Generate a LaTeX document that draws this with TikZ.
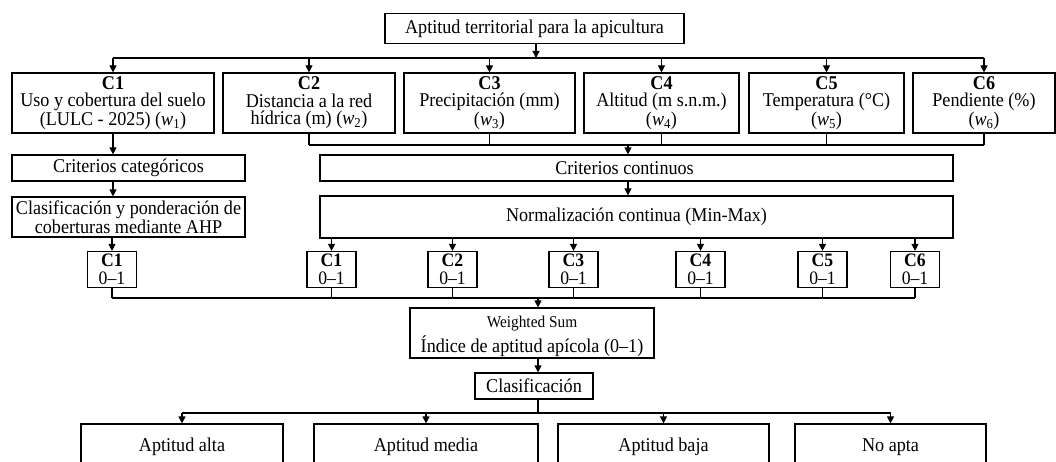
\documentclass[tikz,border=0pt]{standalone}
\usepackage{fontspec}
\setmainfont[FakeStretch=0.93]{Liberation Serif}
\usetikzlibrary{arrows.meta,positioning}
\tikzset{
    box/.style={draw,line width=1.2pt,inner sep=0pt,align=center},
    sz/.style 2 args={minimum width=#1pt,minimum height=#2pt},
    link/.style={line width=1.2pt},
    arr/.style={line width=1.2pt,-{Triangle[length=7pt,width=7pt]}},
    tiny box/.style={box,sz={49}{36},font=\fontsize{19}{17.5}\selectfont}
}
\newcommand{\wt}[1]{\textit{w}\textsubscript{#1}}

\begin{document}
\begin{tikzpicture}[x=1pt,y=-1pt,font=\fontsize{19.5}{17.5}\selectfont]
\useasboundingbox (0,0) rectangle (1056,462);
\clip (0,0) rectangle (1056,462);

% ========= Goal =========
\node[box,sz={299}{30}] (goal) at (534.5,28.5) {Aptitud territorial para la apicultura};

% ========= Criteria =========
\node[box,sz={202}{60}] (c1) at (113,103) {\textbf{C1}\\Uso y cobertura del suelo\\(LULC - 2025) (\wt{1})};
\node[box,sz={172}{60}] (c2) at (309,103) {\textbf{C2}\\Distancia a la red\\hídrica (m) (\wt{2})};
\node[box,sz={171}{60}] (c3) at (489.5,103) {\textbf{C3}\\Precipitación (mm)\\(\wt{3})};
\node[box,sz={155}{60}] (c4) at (661.5,103) {\textbf{C4}\\Altitud (m s.n.m.)\\(\wt{4})};
\node[box,sz={155}{60}] (c5) at (826.5,103) {\textbf{C5}\\Temperatura (°C)\\(\wt{5})};
\node[box,sz={142}{60}] (c6) at (984,103) {\textbf{C6}\\Pendiente (\%)\\(\wt{6})};

\coordinate (bus1) at (536,58);
\draw[arr] (goal.south -| bus1) -- (bus1);
\draw[link] (c1.north |- bus1) -- (c6.north |- bus1);
\foreach \i in {1,...,6}
{
    \draw[arr] (c\i.north |- bus1) -- (c\i.north);
}

% == categorical branch ==%
\node[box,sz={233}{26}] (cat) at (128.5,168) {Criterios categóricos};
\node[box,sz={233}{40}] (ahp) at (128.5,217) {Clasificación y ponderación de\\coberturas mediante AHP};
\node[tiny box] (s1) at (112,269.5) {\textbf{C1}\\0--1};
\draw[arr] (c1.south) -- (c1.south |- cat.north);
\draw[arr] (c1.south |- cat.south) -- (c1.south |- ahp.north);
\draw[arr] (s1.north |- ahp.south) -- (s1.north);

% == continuous branch ==%
\node[box,sz={633}{26}] (cont) at (636.5,168) {Criterios continuos\hspace*{24pt}};
\node[box,sz={633}{42}] (norm) at (636.5,217) {Normalización continua (Min-Max)};
\coordinate (bus2) at (628,145);
\foreach \i in {2,...,6}
{
    \draw[link] (c\i.south) -- (c\i.south |- bus2);
}
\draw[link] (c2.south |- bus2) -- (c6.south |- bus2);
\draw[arr] (bus2) -- (bus2 |- cont.north);
\draw[arr] (bus2 |- cont.south) -- (bus2 |- norm.north);

\node[tiny box] (n1) at (331.5,269.5) {\textbf{C1}\\0--1};
\node[tiny box] (n2) at (452.5,269.5) {\textbf{C2}\\0--1};
\node[tiny box] (n3) at (573.5,269.5) {\textbf{C3}\\0--1};
\node[tiny box] (n4) at (700.5,269.5) {\textbf{C4}\\0--1};
\node[tiny box] (n5) at (822.5,269.5) {\textbf{C5}\\0--1};
\node[tiny box] (n6) at (915,269.5) {\textbf{C6}\\0--1};
\foreach \i in {1,...,6}
{
    \draw[arr] (n\i.north |- norm.south) -- (n\i.north);
}

% ========= Aggregation =========
\node[box,sz={244}{50}] (ws) at (532,333) {\rule{0pt}{18pt}{\fontsize{16.5}{16}\selectfont Weighted Sum}\\[4pt]Índice de aptitud apícola (0--1)};
\node[box,sz={118}{26}] (clas) at (534,386) {Clasificación};

\coordinate (bus3) at (538,298);
\draw[link] (s1.south) -- (s1.south |- bus3);
\foreach \i in {1,...,6}
{
    \draw[link] (n\i.south) -- (n\i.south |- bus3);
}
\draw[link] (s1.south |- bus3) -- (n6.south |- bus3);
\draw[arr] (bus3) -- (bus3 |- ws.north);
\draw[arr] (bus3 |- ws.south) -- (bus3 |- clas.north);

% ========= Classes =========
\node[box,sz={202}{46}] (a1) at (182,447) {Aptitud alta};
\node[box,sz={224}{46}] (a2) at (426,447) {Aptitud media};
\node[box,sz={211}{46}] (a3) at (663.5,447) {Aptitud baja};
\node[box,sz={191}{46}] (a4) at (890.5,447) {No apta};

\coordinate (bus4) at (538,413);
\draw[link] (bus3 |- clas.south) -- (bus4);
\draw[link] (a1.north |- bus4) -- (a4.north |- bus4);
\foreach \i in {1,...,4}
{
    \draw[arr] (a\i.north |- bus4) -- (a\i.north);
}

\end{tikzpicture}
\end{document}
